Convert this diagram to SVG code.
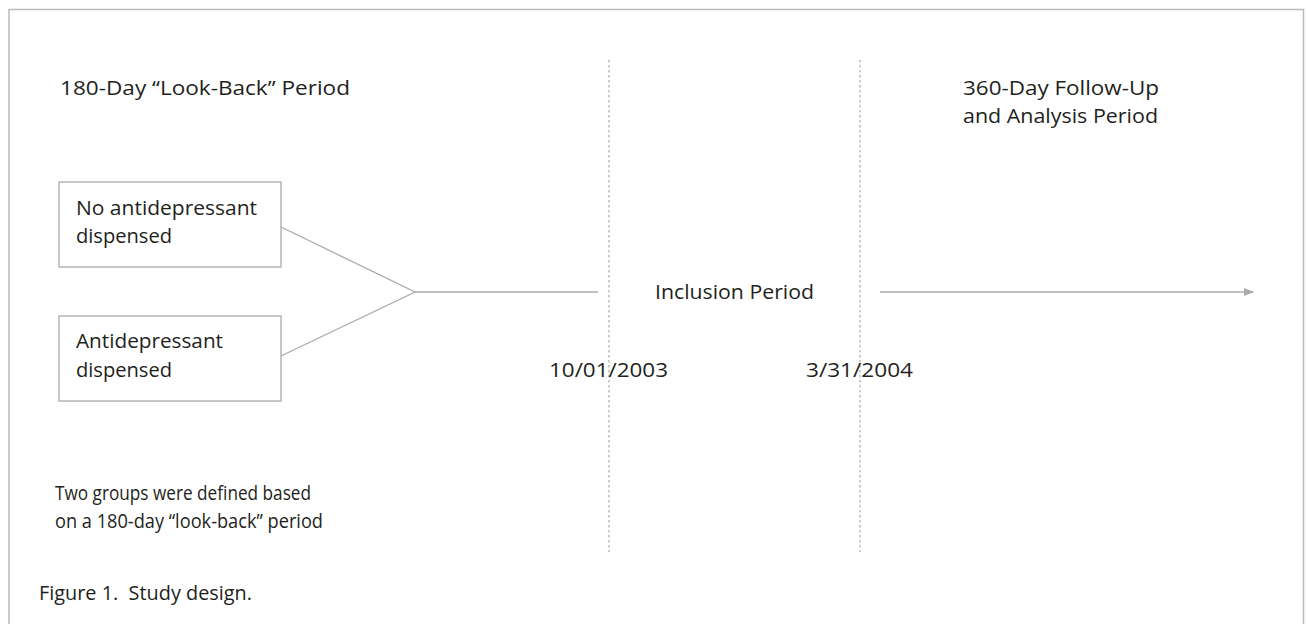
<svg xmlns="http://www.w3.org/2000/svg" width="1307" height="624" viewBox="0 0 1307 624">
<defs>
<style>
text{font-family:"Open Sans",Lato,"Liberation Sans",sans-serif;font-size:20px;fill:#231f20}
.box{fill:#fff;stroke:#aaa;stroke-width:1.3}
.conn{fill:none;stroke:#aaa;stroke-width:1.3}
.dash{fill:none;stroke:#aaa;stroke-width:1.2;stroke-dasharray:2.5 2.5}
</style>
<marker id="arr" markerWidth="10" markerHeight="8" refX="9" refY="4" orient="auto" markerUnits="userSpaceOnUse">
<path d="M0,0 L10,4 L0,8 Z" fill="#aaa"/>
</marker>
</defs>
<rect width="1307" height="624" fill="#fff"/>
<path d="M9,624 V9.5 H1303.5 V624" fill="none" stroke="#bbb" stroke-width="1.5"/>
<g id="dividers">
<line class="dash" x1="609" y1="60" x2="609" y2="552"/>
<line class="dash" x1="860" y1="60" x2="860" y2="552"/>
</g>
<g id="lookback-label"><text x="60" y="95" textLength="290" lengthAdjust="spacingAndGlyphs">180-Day “Look-Back” Period</text></g>
<g id="followup-label"><text x="963" y="95" textLength="196" lengthAdjust="spacingAndGlyphs">360-Day Follow-Up</text><text x="963" y="123" textLength="195" lengthAdjust="spacingAndGlyphs">and Analysis Period</text></g>
<g id="box-no"><rect class="box" x="59" y="182" width="222" height="85"/><text x="76" y="215" textLength="181" lengthAdjust="spacingAndGlyphs">No antidepressant</text><text x="76" y="243" textLength="96" lengthAdjust="spacingAndGlyphs">dispensed</text></g>
<g id="box-yes"><rect class="box" x="59" y="316" width="222" height="85"/><text x="76" y="348" textLength="147" lengthAdjust="spacingAndGlyphs">Antidepressant</text><text x="76" y="377" textLength="96" lengthAdjust="spacingAndGlyphs">dispensed</text></g>
<g id="inclusion"><text x="655" y="299" textLength="159" lengthAdjust="spacingAndGlyphs">Inclusion Period</text></g>
<g id="date-start"><text x="549" y="377" textLength="119" lengthAdjust="spacingAndGlyphs">10/01/2003</text></g>
<g id="date-end"><text x="806" y="377" textLength="107" lengthAdjust="spacingAndGlyphs">3/31/2004</text></g>
<g id="connectors">
<path class="conn" d="M281,227 L415,292 L281,356"/>
<line class="conn" x1="415" y1="292" x2="598" y2="292"/>
<line class="conn" x1="880" y1="292" x2="1253" y2="292" marker-end="url(#arr)"/>
</g>
<g id="note"><text x="55" y="500" textLength="256" lengthAdjust="spacingAndGlyphs">Two groups were defined based</text><text x="55" y="528" textLength="268" lengthAdjust="spacingAndGlyphs">on a 180-day “look-back” period</text></g>
<g id="caption"><text x="39" y="600" textLength="213" lengthAdjust="spacingAndGlyphs">Figure 1.&#160; Study design.</text></g>
</svg>
